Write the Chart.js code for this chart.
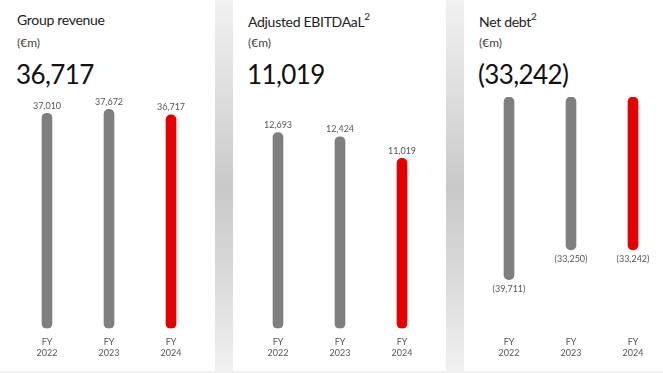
<!DOCTYPE html>
<html>
<head>
<meta charset="utf-8">
<script src="https://cdn.jsdelivr.net/npm/chart.js@4"></script>
<style>
    html, body { margin: 0; padding: 0; }
    body {
        width: 663px; height: 373px; overflow: hidden; position: relative;
        background: linear-gradient(to bottom, #f1f1f1 0%, #dedede 25%, #c9c9c9 50%, #d8d8d8 72%, #f1f1f1 100%);
        font-family: Lato, "Open Sans", sans-serif;
    }
    .panel { position: absolute; top: 0; height: 371px; background: #fff; overflow: hidden; }
    .panel canvas { position: absolute; left: 0; top: 0; }
    .title { position: absolute; top: 11px; font-size: 14px; color: #222; white-space: nowrap; letter-spacing: -0.3px; }
    .title sup { font-size: 10px; position: relative; top: -1px; }
    .unit { position: absolute; top: 35px; font-size: 12px; color: #444; }
    .big { position: absolute; top: 58px; font-size: 26px; color: #111; letter-spacing: -0.6px; }
</style>
</head>
<body>
<div class="panel" id="p1" style="left:0;width:215px">
    <div class="title" style="left:17px">Group revenue</div>
    <div class="unit" style="left:17px">(€m)</div>
    <div class="big" style="left:16px">36,717</div>
    <canvas id="c1" width="215" height="371"></canvas>
</div>
<div class="panel" id="p2" style="left:233px;width:213px">
    <div class="title" style="left:15px">Adjusted EBITDAaL<sup>2</sup></div>
    <div class="unit" style="left:15px">(€m)</div>
    <div class="big" style="left:14px">11,019</div>
    <canvas id="c2" width="215" height="371"></canvas>
</div>
<div class="panel" id="p3" style="left:464px;width:199px">
    <div class="title" style="left:15px">Net debt<sup>2</sup></div>
    <div class="unit" style="left:15px">(€m)</div>
    <div class="big" style="left:14px">(33,242)</div>
    <canvas id="c3" width="215" height="371"></canvas>
</div>
<script>
const years = [["FY", "2022"], ["FY", "2023"], ["FY", "2024"]];
const revenue = [37010, 37672, 36717];
const ebitdaal = [12693, 12424, 11019];
const netDebt = [-39711, -33250, -33242];

const GREY = "#7f7f7f";
const RED = "#e60000";

function fmt(v) {
    const s = Math.abs(v).toLocaleString("en-US");
    return v < 0 ? "(" + s + ")" : s;
}

// value labels above (or below, for negatives) each bar
const valueLabels = {
    id: "valueLabels",
    afterDatasetsDraw(chart) {
        const ctx = chart.ctx;
        const meta = chart.getDatasetMeta(0);
        const data = chart.data.datasets[0].data;
        ctx.save();
        ctx.font = "9px Lato, 'Open Sans', sans-serif";
        ctx.fillStyle = "#555";
        ctx.textAlign = "center";
        meta.data.forEach((bar, i) => {
            const v = data[i];
            if (v < 0) {
                ctx.textBaseline = "top";
                ctx.fillText(fmt(v), bar.x, bar.y + 5);
            } else {
                ctx.textBaseline = "bottom";
                ctx.fillText(fmt(v), bar.x, bar.y - 3);
            }
        });
        ctx.restore();
    }
};

function makeChart(id, values, yMin, yMax, padLeft) {
    new Chart(document.getElementById(id), {
        type: "bar",
        data: {
            labels: years,
            datasets: [{
                data: values,
                backgroundColor: [GREY, GREY, RED],
                borderRadius: 6,
                borderSkipped: false,
                barThickness: 10
            }]
        },
        options: {
            responsive: false,
            animation: false,
            layout: { padding: { top: 97, left: padLeft, right: 215 - padLeft - 186, bottom: 5 } },
            plugins: { legend: { display: false }, tooltip: { enabled: false } },
            scales: {
                x: {
                    grid: { display: false, drawTicks: false },
                    border: { display: false },
                    ticks: {
                        padding: 8,
                        color: "#555",
                        font: { family: "Lato, 'Open Sans', sans-serif", size: 9, lineHeight: 1.2 }
                    }
                },
                y: { display: false, min: yMin, max: yMax }
            }
        },
        plugins: [valueLabels]
    });
}

document.addEventListener("DOMContentLoaded", () => {
    makeChart("c1", revenue, 0, 39800, 16);
    makeChart("c2", ebitdaal, 0, 15000, 14);
    makeChart("c3", netDebt, -50300, 0, 14);
});
</script>
</body>
</html>
